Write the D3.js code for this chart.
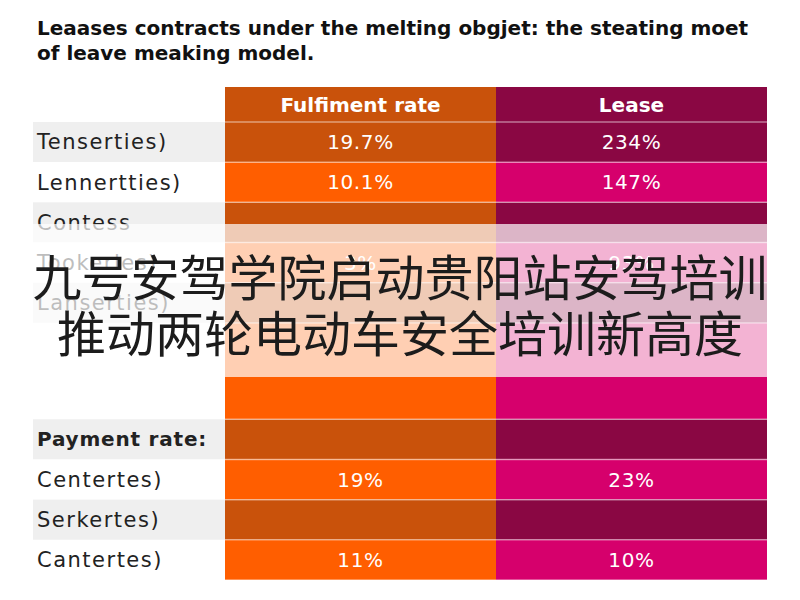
<!DOCTYPE html>
<html>
<head>
<meta charset="utf-8">
<script src="https://cdn.jsdelivr.net/npm/d3@7"></script>
<style>
  body { margin: 0; background: #fff; }
</style>
</head>
<body>
<div id="chart"></div>
<script>
const titleLines = ["Leaases contracts under the melting obgjet: the steating moet", "of leave meaking model."];
const columns = ["Fulfiment rate", "Lease"];
const rowLabels = ["Tenserties)", "Lennertties)", "Contess", "Tookerles)", "Lanserties)", "", "Payment rate:", "Centertes)", "Serkertes)", "Cantertes)"];
const fulfilmentValues = ["19.7%", "10.1%", "", "3%", "", "", "", "19%", "", "11%"];
const leaseValues = ["234%", "147%", "", "93%", "", "", "", "23%", "", "10%"];
const boldLabels = ["Payment rate:"];
const bannerLines = ["九号安驾学院启动贵阳站安驾培训", "推动两轮电动车安全培训新高度"];

const width = 800, height = 600;
const tableLeft = 33, colLeft = 225, tableRight = 767;
const headerTop = 87, bodyTop = 122, bodyBottom = 580;

const svg = d3.select("#chart")
              .append("svg")
              .attr("width", width)
              .attr("height", height)
              .style("font-family", "'DejaVu Sans', sans-serif");

// colours: [dark row, bright row] per column
const palette = {
  "Fulfiment rate": ["#c9520b", "#ff5e00"],
  "Lease": ["#8a0743", "#d6006c"]
};

// rows: empty label = spacer row, taller
const units = rowLabels.map(l => l === "" ? 2.4 : 1);
const starts = d3.cumsum([0].concat(units));
const y = d3.scaleLinear()
            .domain([0, d3.sum(units)])
            .range([bodyTop, bodyBottom]);

const rows = rowLabels.map((label, i) => ({
  label,
  i,
  y0: y(starts[i]),
  y1: y(starts[i + 1]),
  values: [fulfilmentValues[i], leaseValues[i]],
  dark: i % 2 === 0
}));

const x = d3.scaleBand()
            .domain(columns)
            .range([colLeft, tableRight])
            .padding(0);

// title
svg.append("g")
   .selectAll("text")
   .data(titleLines)
   .enter()
   .append("text")
   .attr("x", 37)
   .attr("y", (d, i) => 35 + i * 25)
   .style("font-size", "20px")
   .style("font-weight", "700")
   .style("fill", "#111")
   .text(d => d);

// label column backgrounds
svg.append("g")
   .selectAll("rect")
   .data(rows)
   .enter()
   .append("rect")
   .attr("x", tableLeft)
   .attr("y", d => d.y0)
   .attr("width", colLeft - tableLeft)
   .attr("height", d => d.y1 - d.y0)
   .attr("fill", d => d.dark ? "#efefef" : "#fff");

// header cells
svg.append("g")
   .selectAll("rect")
   .data(columns)
   .enter()
   .append("rect")
   .attr("x", d => x(d))
   .attr("y", headerTop)
   .attr("width", x.bandwidth())
   .attr("height", bodyTop - headerTop)
   .attr("fill", d => palette[d][0]);

svg.append("g")
   .selectAll("text")
   .data(columns)
   .enter()
   .append("text")
   .attr("x", d => x(d) + x.bandwidth() / 2)
   .attr("y", (headerTop + bodyTop) / 2)
   .attr("dy", "0.35em")
   .attr("text-anchor", "middle")
   .style("font-size", "20px")
   .style("font-weight", "700")
   .style("fill", "#fff")
   .text(d => d);

// body cells
const cells = rows.flatMap(r => columns.map((c, j) => ({ row: r, col: c, value: r.values[j] })));

svg.append("g")
   .selectAll("rect")
   .data(cells)
   .enter()
   .append("rect")
   .attr("x", d => x(d.col))
   .attr("y", d => d.row.y0)
   .attr("width", x.bandwidth())
   .attr("height", d => d.row.y1 - d.row.y0)
   .attr("fill", d => palette[d.col][d.row.dark ? 0 : 1]);

// row separators
svg.append("g")
   .selectAll("line")
   .data(rows.map(r => r.y0).concat([bodyBottom]))
   .enter()
   .append("line")
   .attr("x1", colLeft)
   .attr("x2", tableRight)
   .attr("y1", d => d)
   .attr("y2", d => d)
   .attr("stroke", "#fff")
   .attr("stroke-opacity", 0.45)
   .attr("stroke-width", 1.5);

svg.append("g")
   .selectAll("text")
   .data(cells.filter(d => d.value !== ""))
   .enter()
   .append("text")
   .attr("x", d => x(d.col) + x.bandwidth() / 2)
   .attr("y", d => (d.row.y0 + d.row.y1) / 2)
   .attr("dy", "0.35em")
   .attr("text-anchor", "middle")
   .style("font-size", "20px")
   .style("letter-spacing", "0.6px")
   .style("fill", "#fff")
   .text(d => d.value);

// row labels
svg.append("g")
   .selectAll("text")
   .data(rows.filter(r => r.label !== ""))
   .enter()
   .append("text")
   .attr("x", 37)
   .attr("y", d => (d.y0 + d.y1) / 2)
   .attr("dy", "0.35em")
   .style("font-size", d => boldLabels.includes(d.label) ? "20px" : "21px")
   .style("font-weight", d => boldLabels.includes(d.label) ? "700" : "400")
   .style("letter-spacing", d => boldLabels.includes(d.label) ? "0.8px" : "1.5px")
   .style("fill", "#222")
   .text(d => d.label);

// white banner with the chinese headline
svg.append("rect")
   .attr("x", 0)
   .attr("y", 224)
   .attr("width", width)
   .attr("height", 153)
   .attr("fill", "#fff")
   .attr("fill-opacity", 0.7);

svg.append("g")
   .selectAll("text")
   .data(bannerLines)
   .enter()
   .append("text")
   .attr("x", 400)
   .attr("y", (d, i) => 279 + i * 56)
   .attr("dy", "0.35em")
   .attr("text-anchor", "middle")
   .style("font-family", "'Noto Sans CJK SC', sans-serif")
   .style("font-size", "49px")
   .style("fill", "#1c1c1c")
   .text(d => d);
</script>
</body>
</html>
